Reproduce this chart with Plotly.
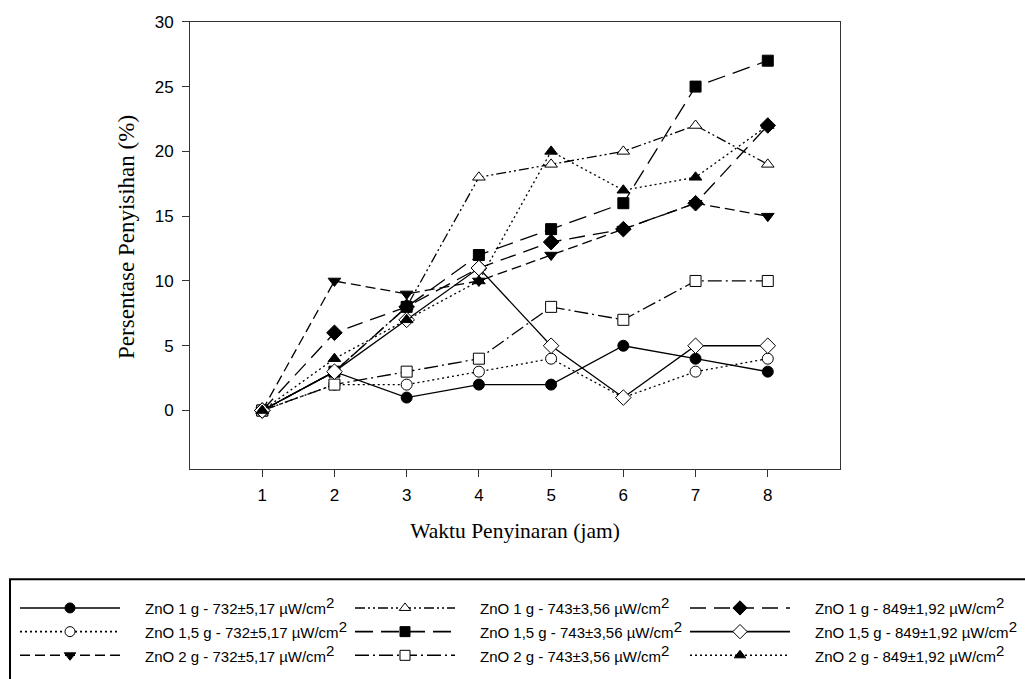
import plotly.graph_objects as go

W, H = 1025, 679

hours = [1, 2, 3, 4, 5, 6, 7, 8]
x_ticks = [1, 2, 3, 4, 5, 6, 7, 8]
y_ticks = [0, 5, 10, 15, 20, 25, 30]

SUP = "<sup><span style='font-size:15px'>2</span></sup>"
names = [
    "ZnO 1 g - 732±5,17 µW/cm" + SUP,
    "ZnO 1,5 g - 732±5,17 µW/cm" + SUP,
    "ZnO 2 g - 732±5,17 µW/cm" + SUP,
    "ZnO 1 g - 743±3,56 µW/cm" + SUP,
    "ZnO 1,5 g - 743±3,56 µW/cm" + SUP,
    "ZnO 2 g - 743±3,56 µW/cm" + SUP,
    "ZnO 1 g - 849±1,92 µW/cm" + SUP,
    "ZnO 1,5 g - 849±1,92 µW/cm" + SUP,
    "ZnO 2 g - 849±1,92 µW/cm" + SUP,
]

zno1_732 = [0, 3, 1, 2, 2, 5, 4, 3]
zno15_732 = [0, 2, 2, 3, 4, 1, 3, 4]
zno2_732 = [0, 10, 9, 10, 12, 14, 16, 15]
zno1_743 = [0, 3, 8, 18, 19, 20, 22, 19]
zno15_743 = [0, 3, 8, 12, 14, 16, 25, 27]
zno2_743 = [0, 2, 3, 4, 8, 7, 10, 10]
zno1_849 = [0, 6, 8, 11, 13, 14, 16, 22]
zno15_849 = [0, 3, 7, 11, 5, 1, 5, 5]
zno2_849 = [0, 4, 7, 10, 20, 17, 18, 22]

series = [zno1_732, zno15_732, zno2_732, zno1_743, zno15_743, zno2_743,
          zno1_849, zno15_849, zno2_849]

# style: (symbol, fill, dash, marker size)
styles = [
    ("circle", "black", "solid", 11),
    ("circle", "white", "2px,3px", 11),
    ("triangle-down", "black", "10px,5px", 11),
    ("triangle-up", "white", "10px,3px,2px,3px,2px,3px", 11),
    ("square", "black", "18px,8px", 11),
    ("square", "white", "14px,4px,2px,4px", 11),
    ("diamond", "black", "16px,8px", 12),
    ("diamond", "white", "solid", 12),
    ("triangle-up", "black", "2px,3px", 11),
]

fig = go.Figure()

for vals, (sym, fill, dash, ms) in zip(series, styles):
    fig.add_trace(go.Scatter(
        x=hours, y=vals, mode="lines+markers",
        line=dict(color="black", width=1.3, dash=dash),
        marker=dict(symbol=sym, size=ms, color=fill, line=dict(color="black", width=1)),
        showlegend=False, xaxis="x", yaxis="y",
    ))

# legend drawn on a pixel-like overlay axis in the bottom band
LEG_TOP = 574
col_x = [20, 355, 690]
row_y = [607, 631, 655]
sample_len = 100
text_off = 123
for i, (name, (sym, fill, dash, ms)) in enumerate(zip(names, styles)):
    c, r = i // 3, i % 3
    x0 = col_x[c]
    y0 = row_y[r]
    fig.add_trace(go.Scatter(
        x=[x0, x0 + sample_len], y=[y0, y0], mode="lines",
        line=dict(color="black", width=1.6, dash=dash),
        showlegend=False, xaxis="x2", yaxis="y2", hoverinfo="skip",
    ))
    fig.add_trace(go.Scatter(
        x=[x0 + sample_len / 2], y=[y0], mode="markers",
        marker=dict(symbol=sym, size=ms - 1, color=fill, line=dict(color="black", width=1)),
        showlegend=False, xaxis="x2", yaxis="y2", hoverinfo="skip",
    ))
    fig.add_annotation(
        x=x0 + text_off, y=y0 - 2, xref="x2", yref="y2", text=name,
        showarrow=False, xanchor="left", yanchor="middle",
        font=dict(family="Liberation Sans, Arial", size=15, color="black"),
    )

fig.add_shape(type="rect", x0=10, y0=578, x1=1060, y1=720, xref="x2", yref="y2",
              line=dict(color="black", width=2), fillcolor="rgba(0,0,0,0)", layer="below")

px0, px1 = 190, 840
py0, py1 = 13, 466

# y-axis title placed as rotated text (slightly above the plot centre, as in the reference)
fig.add_annotation(
    x=127 / W, y=(H - 231) / H, xref="paper", yref="paper",
    text="Persentase Penyisihan (%)", textangle=-90, showarrow=False,
    xanchor="center", yanchor="middle",
    font=dict(family="Liberation Serif, Times New Roman", size=23, color="black"),
)

fig.update_layout(
    width=W, height=H,
    margin=dict(l=0, r=0, t=0, b=0),
    paper_bgcolor="white", plot_bgcolor="rgba(0,0,0,0)",
    xaxis=dict(
        domain=[px0 / W, px1 / W], range=[0, 9],
        tickmode="array", tickvals=x_ticks, ticktext=[str(v) for v in x_ticks],
        ticks="outside", ticklen=7, tickcolor="#333", tickwidth=1,
        ticklabelstandoff=4,
        showline=True, linecolor="#333", linewidth=1, mirror=True,
        showgrid=False, zeroline=False,
        tickfont=dict(family="Liberation Sans, Arial", size=17, color="black"),
        title=dict(text="Waktu Penyinaran (jam)", standoff=18,
                   font=dict(family="Liberation Serif, Times New Roman", size=21.5, color="black")),
    ),
    yaxis=dict(
        domain=[(H - py1) / H, (H - py0) / H], range=[-4.5, 30],
        tickmode="array", tickvals=y_ticks, ticktext=[str(v) for v in y_ticks],
        ticks="outside", ticklen=7, tickcolor="#333", tickwidth=1,
        ticklabelstandoff=5,
        showline=True, linecolor="#333", linewidth=1, mirror=True,
        showgrid=False, zeroline=False,
        tickfont=dict(family="Liberation Sans, Arial", size=17, color="black"),
    ),
    xaxis2=dict(domain=[0, 1], range=[0, W], visible=False, anchor="y2", fixedrange=True),
    yaxis2=dict(domain=[0, (H - LEG_TOP) / H], range=[H, LEG_TOP], visible=False,
                anchor="x2", fixedrange=True),
)

fig.write_html("out.html")
